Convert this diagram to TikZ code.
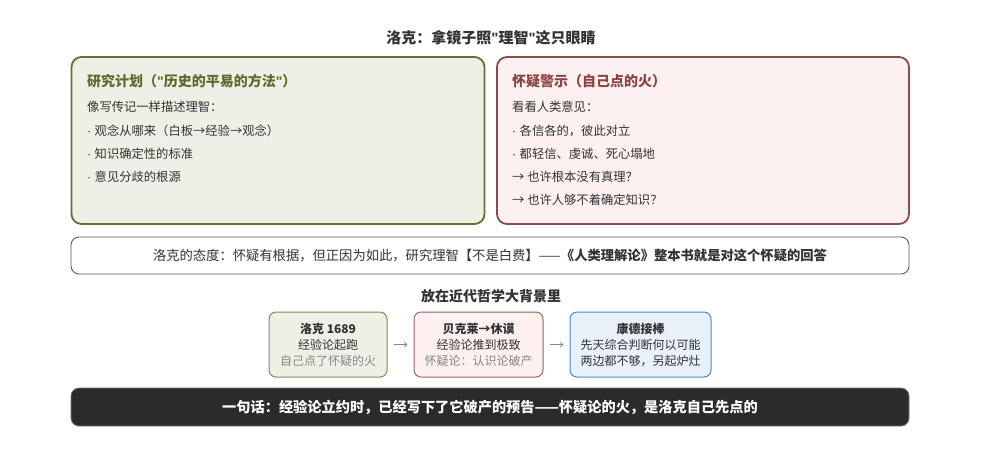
\documentclass[tikz,border=0pt]{standalone}
\usepackage{fontspec}
\setmainfont{Noto Sans CJK SC}
\newfontfamily\latinfont{Liberation Sans}
\newcommand{\dq}{{\latinfont"}}
\newcommand{\bul}{{\latinfont ·\ }}
\usetikzlibrary{arrows.meta}
\definecolor{txt}{HTML}{333333}
\definecolor{olivebd}{HTML}{627232}
\definecolor{olivefill}{HTML}{EEF0E6}
\definecolor{olivetx}{HTML}{5E6B2E}
\definecolor{redbd}{HTML}{8C4A4A}
\definecolor{redfill}{HTML}{FDF0F0}
\definecolor{redtx}{HTML}{8B4444}
\definecolor{bluebd}{HTML}{4A8AC8}
\definecolor{bluefill}{HTML}{E8F0FA}
\definecolor{graytx}{HTML}{888888}
\definecolor{darkfill}{HTML}{2B2B2B}
\tikzset{
  bigbox/.style={draw, line width=1.8pt, rounded corners=10pt, inner sep=0pt},
  smallbox/.style={draw, line width=1pt, rounded corners=7pt, inner sep=0pt, minimum height=65pt},
  bodytxt/.style={anchor=west, inner sep=0pt, text=txt, font=\fontsize{12.3}{14}\selectfont},
  headtxt/.style={anchor=west, inner sep=0pt, font=\fontsize{14}{16}\selectfont\bfseries},
  smalltxt/.style={align=center, text=txt, font=\fontsize{12}{16}\selectfont},
  flow/.style={-{Straight Barb[length=3pt,width=5pt]}, draw=graytx, line width=0.7pt, shorten <=6pt, shorten >=6pt},
}
\begin{document}
\begin{tikzpicture}[x=1pt,y=-1pt]
\useasboundingbox[fill=white] (0,0) rectangle (982,456);
% title
\node[font=\fontsize{15}{17}\selectfont\bfseries, text=txt] (title) at (491,38) {洛克：拿镜子照\dq 理智\dq 这只眼睛};
% left box
\node[bigbox, draw=olivebd, fill=olivefill, minimum width=413pt, minimum height=167pt] (lbox) at (278,140.5) {};
\node[headtxt, text=olivetx] (lh) at (87,81) {研究计划（\dq 历史的平易的方法\dq ）};
\node[bodytxt] (l1) at (87,107) {像写传记一样描述理智：};
\node[bodytxt] (l2) at (87,131) {\bul 观念从哪来（白板→经验→观念）};
\node[bodytxt] (l3) at (87,154) {\bul 知识确定性的标准};
\node[bodytxt] (l4) at (87,177) {\bul 意见分歧的根源};
% right box
\node[bigbox, draw=redbd, fill=redfill, minimum width=412pt, minimum height=167pt] (rbox) at (703,140.5) {};
\node[headtxt, text=redtx] (rh) at (512,81) {怀疑警示（自己点的火）};
\node[bodytxt] (r1) at (512,107) {看看人类意见：};
\node[bodytxt] (r2) at (512,131) {\bul 各信各的，彼此对立};
\node[bodytxt] (r3) at (512,154) {\bul 都轻信、虔诚、死心塌地};
\node[bodytxt] (r4) at (512,177) {→ 也许根本没有真理？};
\node[bodytxt] (r5) at (512,200) {→ 也许人够不着确定知识？};
% middle box
\node[draw=black!65, line width=0.9pt, rounded corners=8pt, fill=white, minimum width=838pt, minimum height=37pt, inner sep=0pt, text=txt, font=\fontsize{13.3}{15}\selectfont] (mbox) at (490,255.5) {洛克的态度：怀疑有根据，但正因为如此，研究理智【不是白费】——\textbf{《人类理解论》整本书就是对这个怀疑的回答}};
% section heading
\node[font=\fontsize{14}{16}\selectfont\bfseries, text=txt] (sec) at (491,296) {放在近代哲学大背景里};
% small boxes
\node[smallbox, draw=olivebd!80, fill=olivefill, minimum width=118pt, smalltxt] (s1) at (328,344.5) {\textbf{洛克 1689}\\经验论起跑\\\textcolor{graytx}{自己点了怀疑的火}};
\node[smallbox, draw=redbd!85, fill=redfill, minimum width=129pt, smalltxt] (s2) at (478.5,344.5) {\textbf{贝克莱→休谟}\\经验论推到极致\\\textcolor{graytx}{怀疑论：认识论破产}};
\node[smallbox, draw=bluebd, fill=bluefill, minimum width=141pt, smalltxt] (s3) at (640.5,344.5) {\textbf{康德接棒}\\先天综合判断何以可能\\两边都不够，另起炉灶};
\draw[flow] (s1.east) -- (s2.west);
\draw[flow] (s2.east) -- (s3.west);
% bottom box
\node[fill=darkfill, draw=black!55, line width=0.8pt, rounded corners=8pt, minimum width=838pt, minimum height=38pt, inner sep=0pt, text=white, font=\fontsize{14.2}{16}\selectfont\bfseries] (bbox) at (490,407) {一句话：经验论立约时，已经写下了它破产的预告——怀疑论的火，是洛克自己先点的};
\end{tikzpicture}
\end{document}
